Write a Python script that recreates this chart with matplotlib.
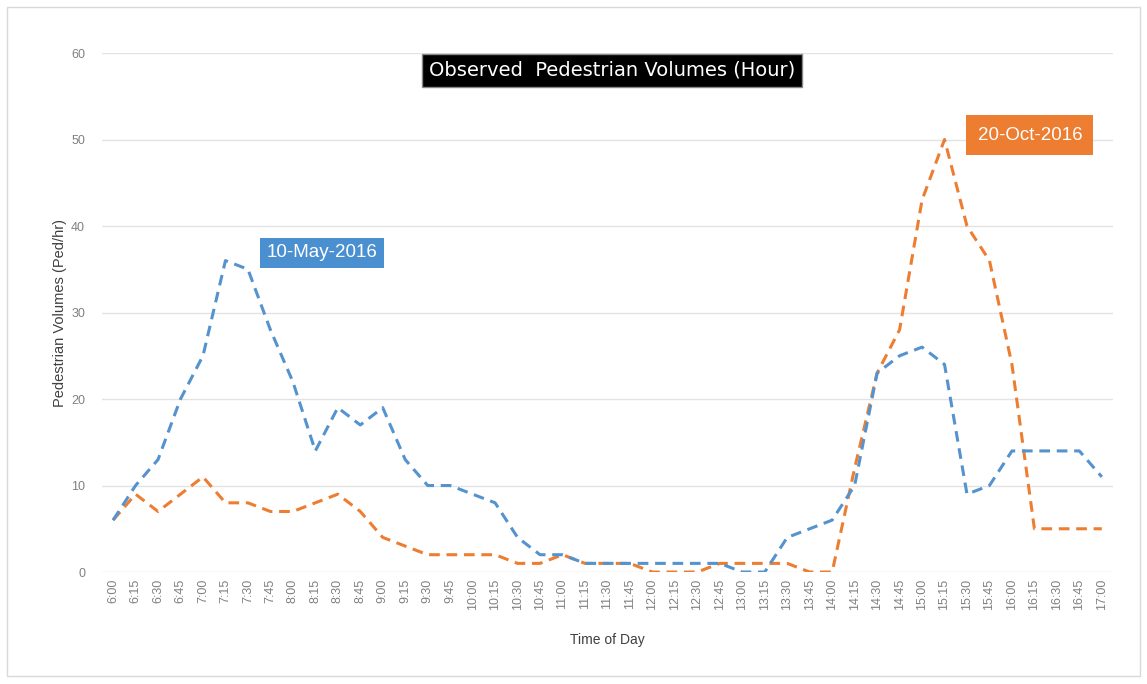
import matplotlib
matplotlib.use("Agg")
import matplotlib.pyplot as plt
from matplotlib.patches import Rectangle

# Observed pedestrian volumes, 15-minute steps from 6:00 to 17:00

times = ["6:00", "6:15", "6:30", "6:45", "7:00", "7:15", "7:30", "7:45",
         "8:00", "8:15", "8:30", "8:45", "9:00", "9:15", "9:30", "9:45",
         "10:00", "10:15", "10:30", "10:45", "11:00", "11:15", "11:30", "11:45",
         "12:00", "12:15", "12:30", "12:45", "13:00", "13:15", "13:30", "13:45",
         "14:00", "14:15", "14:30", "14:45", "15:00", "15:15", "15:30", "15:45",
         "16:00", "16:15", "16:30", "16:45", "17:00"]

may_2016 = [6, 10, 13, 20, 25, 36, 35, 28, 22, 14, 19, 17, 19, 13, 10, 10,
            9, 8, 4, 2, 2, 1, 1, 1, 1, 1, 1, 1, 0, 0, 4, 5,
            6, 10, 23, 25, 26, 24, 9, 10, 14, 14, 14, 14, 11]

oct_2016 = [6, 9, 7, 9, 11, 8, 8, 7, 7, 8, 9, 7, 4, 3, 2, 2,
            2, 2, 1, 1, 2, 1, 1, 1, 0, 0, 0, 1, 1, 1, 1, 0,
            0, 12, 23, 28, 43, 50, 40, 36, 24, 5, 5, 5, 5]

y_ticks = [0, 10, 20, 30, 40, 50, 60]

blue = "#5593cf"
orange = "#ed7d31"
font = "Liberation Sans"

fig = plt.figure(figsize=(11.47, 6.84), dpi=100)
ax = fig.add_axes([0.0888, 0.1637, 0.8816, 0.7588])

# outer frame of the picture
fig.patches.append(Rectangle((0.006, 0.012), 0.988, 0.978, transform=fig.transFigure,
                             fill=False, edgecolor="#d9d9d9", linewidth=1.0))

x = list(range(len(times)))
ax.plot(x, oct_2016, color=orange, linewidth=2.2, dashes=(3.5, 2.2))
ax.plot(x, may_2016, color=blue, linewidth=2.2, dashes=(3.5, 2.2))

ax.set_xlim(-0.5, len(times) - 0.5)
ax.set_ylim(0, 60)
ax.set_xticks(x)
ax.set_xticklabels(times, rotation=90, fontsize=9, color="#808080", family=font)
ax.set_yticks(y_ticks)
ax.set_yticklabels([str(v) for v in y_ticks], fontsize=9, color="#808080", family=font)
ax.tick_params(axis="x", length=0, pad=5)
ax.tick_params(axis="y", length=0, pad=12)
ax.grid(axis="y", color="#e3e3e3", linewidth=1.0)
ax.set_axisbelow(True)
for s in ax.spines.values():
    s.set_visible(False)

ax.set_xlabel("Time of Day", fontsize=10, color="#404040", family=font, labelpad=16)
ax.set_ylabel("Pedestrian Volumes (Ped/hr)", fontsize=10.5, color="#404040",
              family=font, labelpad=3)

ax.text(22.2, 58.0, "Observed  Pedestrian Volumes (Hour)", ha="center", va="center",
        fontsize=14, color="white", family="DejaVu Sans",
        bbox=dict(boxstyle="square,pad=0.35", facecolor="black", edgecolor="#888888"))
ax.text(9.3, 36.9, "10-May-2016", ha="center", va="center", fontsize=13.5, color="white",
        family=font,
        bbox=dict(boxstyle="square,pad=0.35", facecolor="#4a8fd0", edgecolor="none"))
ax.text(40.8, 50.5, "20-Oct-2016", ha="center", va="center", fontsize=13.5, color="white",
        family=font,
        bbox=dict(boxstyle="square,pad=0.6", facecolor=orange, edgecolor="none"))

fig.savefig("out.png", dpi=100)
